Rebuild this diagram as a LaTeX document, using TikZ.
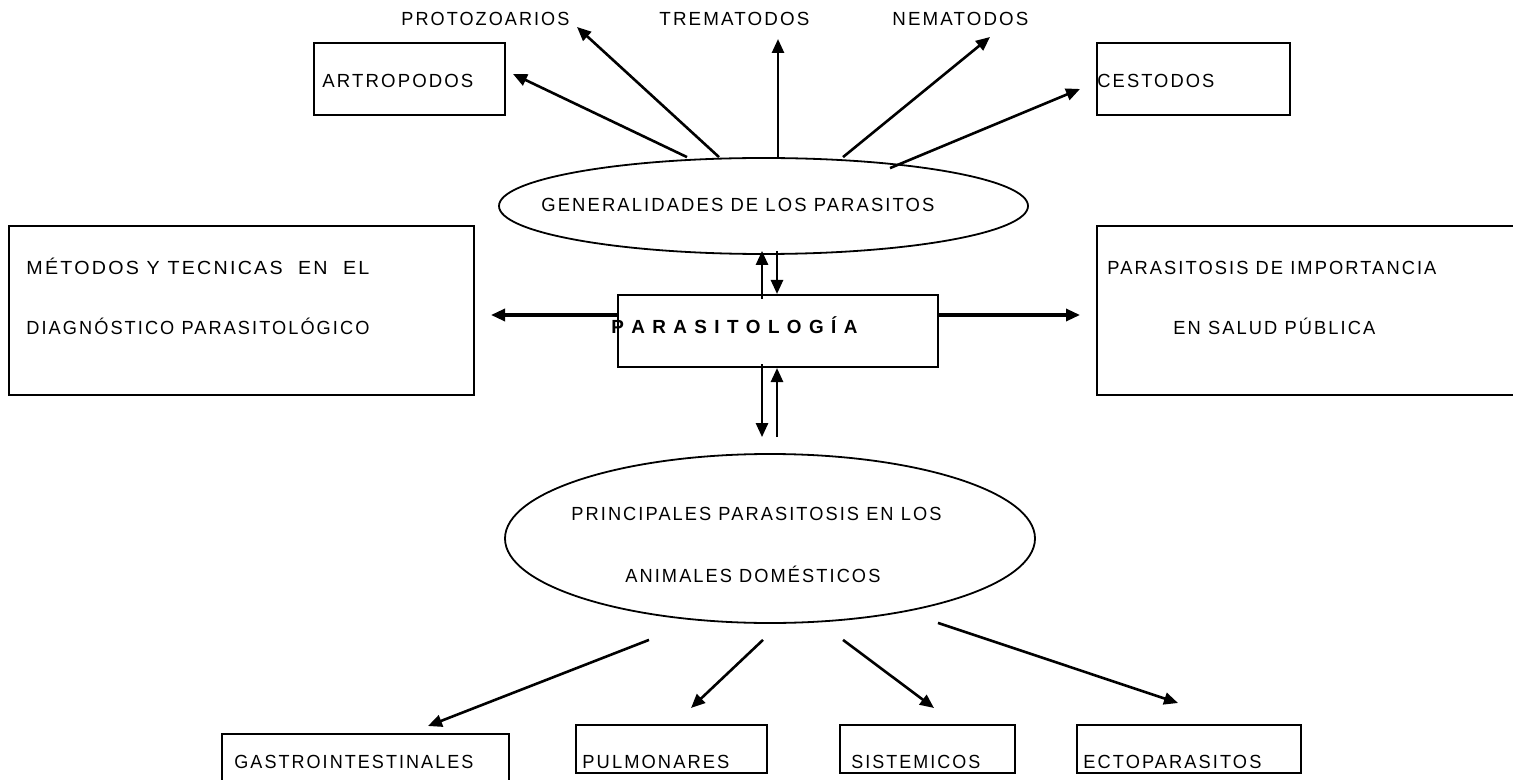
\documentclass[tikz,border=0pt]{standalone}
\usepackage{fontspec}
\usepackage{graphicx}
\usetikzlibrary{shapes.geometric,arrows.meta,calc}
\newfontfamily\lblfam{Liberation Sans}[FakeStretch=0.88,LetterSpace=10]
\newcommand\lblfont{\lblfam\fontsize{9.5pt}{11pt}\selectfont}
\newcommand\tfit[2]{\resizebox{#1pt}{\height}{#2}}
\begin{document}
\begin{tikzpicture}[x=0.5pt,y=-0.5pt,
  box/.style={draw,line width=1pt,inner sep=0pt,rectangle},
  oval/.style={draw,line width=0.9pt,ellipse,inner sep=0pt},
  lbl/.style={anchor=base west,inner sep=0pt,font=\lblfont},
  arr/.style={line width=1.3pt,-{Triangle[length=7pt,width=6pt]}}]
\fill[white] (0,0) rectangle (1513,780);
\useasboundingbox (0,0) rectangle (1513,780);

% shapes
\node[box,minimum width=95.5pt,minimum height=36pt] (artro) at (409.5,79) {};
\node[box,minimum width=96.5pt,minimum height=36pt] (cest) at (1193.5,79) {};
\node[oval,minimum width=264.5pt,minimum height=48pt] (gen) at (763.5,206) {};
\node[box,minimum width=232.5pt,minimum height=84.5pt] (met) at (241.5,310.5) {};
\node[box,minimum width=211.5pt,minimum height=84.5pt] (imp) at (1308.5,310.5) {};
\node[box,minimum width=160pt,minimum height=36pt] (para) at (778,331) {};
\node[oval,minimum width=265pt,minimum height=84.5pt] (prin) at (770,538.5) {};
\node[box,minimum width=143.5pt,minimum height=33pt] (gastro) at (365.5,767) {};
\node[box,minimum width=95.5pt,minimum height=24pt] (pulm) at (671.5,749) {};
\node[box,minimum width=87.5pt,minimum height=24pt] (sist) at (927.5,749) {};
\node[box,minimum width=112pt,minimum height=24pt] (ecto) at (1189,749) {};

% texts
\node[lbl] (tproto) at (401,25.5) {\tfit{84}{PROTOZOARIOS}};
\node[lbl] (ttrema) at (659,25.5) {\tfit{75}{TREMATODOS}};
\node[lbl] (tnema) at (892,25.5) {\tfit{68}{NEMATODOS}};
\node[lbl] (tartro) at (322,87.5) {\tfit{75.5}{ARTROPODOS}};
\node[lbl] (tcest) at (1097,87.5) {\tfit{58.5}{CESTODOS}};
\node[lbl] (tgen) at (541,211.5) {\tfit{196.5}{GENERALIDADES DE LOS PARASITOS}};
\node[lbl] (tmet1) at (26,274.5) {\tfit{171.5}{MÉTODOS Y TECNICAS\ \ EN\ \ EL}};
\node[lbl] (tmet2) at (26,334.5) {\tfit{171.5}{DIAGNÓSTICO PARASITOLÓGICO}};
\node[lbl] (timp1) at (1107,274.5) {\tfit{164.5}{PARASITOSIS DE IMPORTANCIA}};
\node[lbl] (timp2) at (1173,334.5) {\tfit{101}{EN SALUD PÚBLICA}};
\node[lbl,font=\lblfont\bfseries] (tpara) at (611,334) {\tfit{123}{P A R A S I T O L O G Í A}};
\node[lbl] (tprin1) at (571,520.5) {\tfit{185}{PRINCIPALES PARASITOSIS EN LOS}};
\node[lbl] (tprin2) at (625,582.5) {\tfit{127.5}{ANIMALES DOMÉSTICOS}};
\node[lbl] (tgastro) at (234,768.5) {\tfit{119.5}{GASTROINTESTINALES}};
\node[lbl] (tpulm) at (582,768.5) {\tfit{73.5}{PULMONARES}};
\node[lbl] (tsist) at (851,768.5) {\tfit{64.5}{SISTEMICOS}};
\node[lbl] (tecto) at (1083,768.5) {\tfit{89}{ECTOPARASITOS}};

% free arrow ends
\coordinate (eproto) at (577,27);
\coordinate (etrema) at (778,39);
\coordinate (enema) at (990,37);

% top arrows
\draw[arr] ($(gen.north)+(-76.5,0)$) -- ($(artro.east)+(7,-5)$);
\draw[arr] ($(gen.north)+(-44.5,0)$) -- (eproto);
\draw[arr] ($(gen.north)+(14.5,0)$) -- (etrema);
\draw[arr] ($(gen.north)+(79.5,0)$) -- (enema);
\draw[arr] ($(gen.north)+(126.5,11)$) -- ($(cest.west)+(-16,10)$);

% middle arrows
\draw[arr] ($(para.north)+(-16,5)$) -- ($(gen.south)+(-1.5,-4)$);
\draw[arr] ($(gen.south)+(13.5,-4)$) -- ($(para.north)+(-1,0)$);
\draw[arr,line width=1.6pt] ($(para.west)+(0,-16)$) -- ($(met.east)+(16,4.5)$);
\draw[arr,line width=1.6pt] ($(para.east)+(0,-16)$) -- ($(imp.west)+(-16,4.5)$);
\draw[arr] ($(para.south)+(-16,-4)$) -- ($(prin.north)+(-8,-16)$);
\draw[arr] ($(prin.north)+(7,-16)$) -- ($(para.south)+(-1,0)$);

% bottom arrows
\draw[arr] ($(prin.south)+(-121,16)$) -- ($(gastro.north)+(62.5,-7)$);
\draw[arr] ($(prin.south)+(-7,16)$) -- ($(pulm.north)+(19.5,-16)$);
\draw[arr] ($(prin.south)+(73,16)$) -- ($(sist.north)+(6.5,-16)$);
\draw[arr] ($(prin.south)+(168,-1)$) -- ($(ecto.north)+(-11,-21)$);
\end{tikzpicture}
\end{document}
